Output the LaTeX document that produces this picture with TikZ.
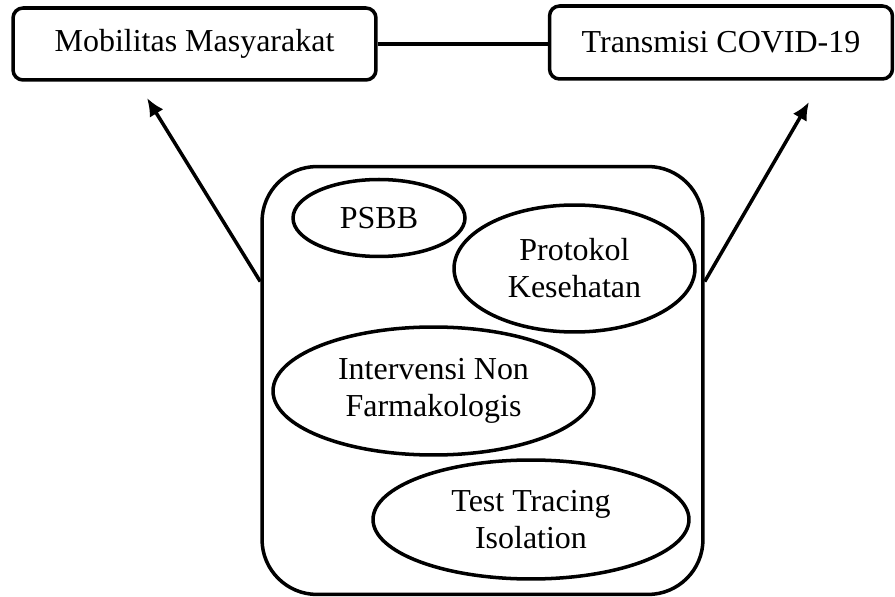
\documentclass[tikz,border=0pt]{standalone}
\usepackage{fontspec}
\setmainfont{Liberation Serif}
\usetikzlibrary{shapes.geometric,arrows.meta}

\begin{document}
\begin{tikzpicture}[x=0.02cm,y=-0.02cm,
  every node/.style={font=\fontsize{18.2}{21}\selectfont},
  box/.style={draw,rounded corners=0.2cm,line width=2pt,inner sep=0pt},
  blob/.style={draw,ellipse,line width=2pt,inner sep=0pt,align=center},
  arr/.style={line width=2pt,-{Latex[length=0.36cm,width=0.32cm]}}]
\useasboundingbox (0,0) rectangle (895,597);
% top boxes
\node[box,minimum width=7.26cm,minimum height=1.44cm] (mob) at (194.5,44) {Mobilitas Masyarakat};
\node[box,minimum width=6.86cm,minimum height=1.46cm] (tra) at (721,42.5) {Transmisi COVID-19};
\draw[line width=2pt] (mob.east) -- (mob.east -| tra.west);
% big frame
\node[box,rounded corners=1.1cm,minimum width=8.82cm,minimum height=8.56cm] (frame) at (482.5,380.5) {};
\node[blob,minimum width=3.44cm,minimum height=1.54cm] (psbb) at (379,218) {PSBB};
\node[blob,minimum width=4.82cm,minimum height=2.54cm] (prok) at (574.5,268.5) {Protokol\\Kesehatan};
\node[blob,minimum width=6.42cm,minimum height=2.56cm] (inf) at (433.5,391) {Intervensi Non\\Farmakologis};
\node[blob,minimum width=6.32cm,minimum height=2.38cm] (tti) at (531,519.5) {Test Tracing\\Isolation};
% arrows
\coordinate (mtip) at (147,98);
\coordinate (ttip) at (809,102);
\draw[arr] (frame.156) -- (mtip);
\draw[arr] (frame.24) -- (ttip);
\end{tikzpicture}
\end{document}
